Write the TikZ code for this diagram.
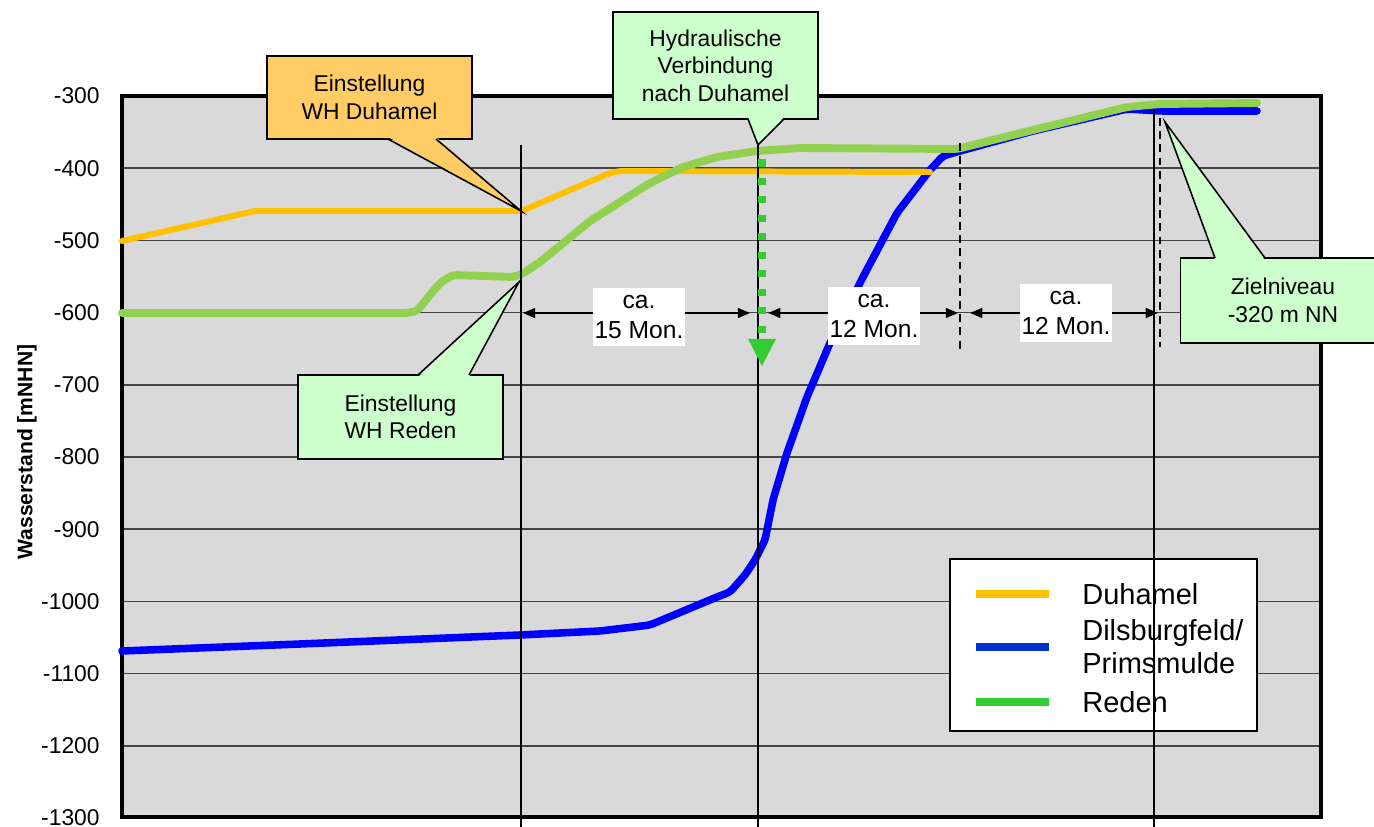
\documentclass[tikz,border=0pt]{standalone}
\usepackage{fontspec}
\setmainfont{Liberation Sans}
\usetikzlibrary{arrows.meta}

\definecolor{duhamel}{HTML}{FFC000}
\definecolor{reden}{HTML}{92D050}
\definecolor{dilsburg}{HTML}{0000FF}
\definecolor{legblue}{HTML}{0033CC}
\definecolor{leggreen}{HTML}{33CC33}
\definecolor{notegreen}{HTML}{CCFFCC}
\definecolor{noteorange}{HTML}{FFCC66}
\definecolor{plotgray}{HTML}{D9D9D9}
\definecolor{gridgray}{HTML}{454545}

\begin{document}
\begin{tikzpicture}[x=0.02cm, y=-0.02cm,
    note/.style={draw, line width=0.9pt, align=center, minimum width=4.1cm,
        inner sep=1pt, font=\fontsize{13}{15.6}\selectfont},
    pointer/.style={line width=0.9pt, line join=miter},
    ticklabel/.style={anchor=east, inner sep=0pt, font=\fontsize{13}{15}\selectfont},
    gridline/.style={gridgray, line width=0.9pt},
    curve/.style={line width=#1, line join=round, line cap=round, rounded corners=2pt},
    markline/.style={line width=0.7pt},
    markdash/.style={line width=1.1pt, dash pattern=on 4.5pt off 3pt},
    dimarrow/.style={line width=1.1pt, {Triangle[length=7pt,width=5.6pt]}-{Triangle[length=7pt,width=5.6pt]}},
    dimlabel/.style={fill=white, align=center, inner xsep=1pt, inner ysep=4pt, font=\fontsize{14}{17}\selectfont},
    legtext/.style={anchor=west, align=left, inner sep=0pt, font=\fontsize{16.5}{18.7}\selectfont},
    swatch/.style={line width=5pt}
]
\useasboundingbox (0,0) rectangle (1374,827);

% Plot area
\fill[plotgray] (122,96) rectangle (1321,817);
\foreach \v in {400,500,...,1200}
    \draw[gridline] (122,{96+(\v-300)*0.722}) -- (1321,{96+(\v-300)*0.722});
\draw[line width=2pt] (122,96) rectangle (1321,817);

% Axis
\foreach \v in {300,400,...,1300}
    \node[ticklabel] (tick\v) at (100,{96+(\v-300)*0.722}) {-\v};
\node[rotate=90, font=\bfseries\fontsize{12}{14}\selectfont] (ylabel) at (27,452) {Wasserstand [mNHN]};

% Curves
\draw[curve=4.3pt, dilsburg] (122,651) -- (300,644) -- (520,635) -- (600,631) -- (650,625)
    -- (717,597) -- (730,592) -- (745,575) -- (755,560) -- (765,540) -- (773,500) -- (787,453)
    -- (807,397) -- (830,343) -- (863,277) -- (897,213) -- (930,170) -- (943,156) -- (960,151)
    -- (1033,131) -- (1127,109) -- (1160,111) -- (1257,111);
\draw[curve=3.4pt, duhamel] (122,241) -- (255,211) -- (515,211) -- (522,211) -- (533,206)
    -- (610,173) -- (620,171) -- (930,172);
\draw[curve=4.5pt, reden] (122,313) -- (407,313) -- (417,311) -- (430,295) -- (440,283)
    -- (453,275) -- (513,277) -- (522,274) -- (540,262) -- (567,240) -- (590,221) -- (620,202)
    -- (650,183) -- (683,167) -- (717,157) -- (757,151) -- (800,148) -- (957,149)
    -- (1033,130) -- (1127,107) -- (1160,104) -- (1257,103);

% Legend
\node[draw, fill=white, line width=1.2pt, minimum width=6.14cm, minimum height=3.44cm] (legend) at (1103.5,645) {};
\node[legtext] (legDuh) at (1082,594) {Duhamel};
\node[legtext] (legDil) at (1082,647) {Dilsburgfeld/\\Primsmulde};
\node[legtext] (legRed) at (1082,702) {Reden};
\draw[swatch, duhamel] (976,594) -- (1049,594);
\draw[swatch, legblue] (976,647) -- (1049,647);
\draw[swatch, leggreen] (976,702) -- (1049,702);

% Markers
\coordinate (tipDuh) at (521,211);
\coordinate (tipHyd) at (758,145);
\coordinate (tipRed) at (519,282);
\coordinate (tipZiel) at (1165,122);
\coordinate (r1) at (521,313);
\coordinate (r2) at (758,313);
\coordinate (r3) at (960,313);
\coordinate (r4) at (1158,313);

\draw[markline] (521,145) -- (521,827);
\draw[markdash] (521,145) -- (521,350);
\draw[markline] (tipHyd) -- (758,827);
\draw[markdash] (960,143) -- (960,350);
\draw[markline] (1154,110) -- (1154,827);
\draw[markdash] (1160,118) -- (1160,347);

\coordinate (flowTip) at (762,366);
\draw[leggreen, line width=4pt, dash pattern=on 4pt off 6.5pt,
    -{Triangle[length=15.5pt,width=16pt,line width=0pt]}] (762,159.5) -- (flowTip);

% Durations
\draw[dimarrow, shorten <=1.1pt, shorten >=4.5pt] (r1) -- (r2);
\draw[dimarrow, shorten <=5.7pt, shorten >=1.1pt] (r2) -- (r3);
\draw[dimarrow, shorten <=5.7pt] (r3) -- (r4);
\node[dimlabel] (dur1) at (639,317) {ca.\\15 Mon.};
\node[dimlabel] (dur2) at (874,316) {ca.\\12 Mon.};
\node[dimlabel] (dur3) at (1066,313) {ca.\\12 Mon.};

% Callouts
\node[note, fill=noteorange, minimum height=1.66cm] (noteDuh) at (369.5,97.5) {Einstellung\\WH Duhamel};
\fill[noteorange] (388,137) -- (tipDuh) -- (436,137) -- cycle;
\draw[pointer] (388,139) -- (tipDuh) -- (436,139);

\node[note, fill=notegreen, minimum height=2.14cm] (noteHyd) at (715.5,65.5) {Hydraulische\\Verbindung\\nach Duhamel};
\fill[notegreen] (748,117) -- (tipHyd) -- (784,117) -- cycle;
\draw[pointer] (748,119) -- (tipHyd) -- (784,119);

\node[note, fill=notegreen, minimum height=1.68cm] (noteRed) at (400.5,417) {Einstellung\\WH Reden};
\fill[notegreen] (418,377) -- (tipRed) -- (469,377) -- cycle;
\draw[pointer] (418,375) -- (tipRed) -- (469,375);

\node[note, fill=notegreen, minimum height=1.7cm] (noteZiel) at (1283,300.5) {Zielniveau\\-320 m NN};
\fill[notegreen] (1215,260) -- (tipZiel) -- (1265,260) -- cycle;
\draw[pointer] (1215,258) -- (tipZiel) -- (1265,258);
\end{tikzpicture}
\end{document}
